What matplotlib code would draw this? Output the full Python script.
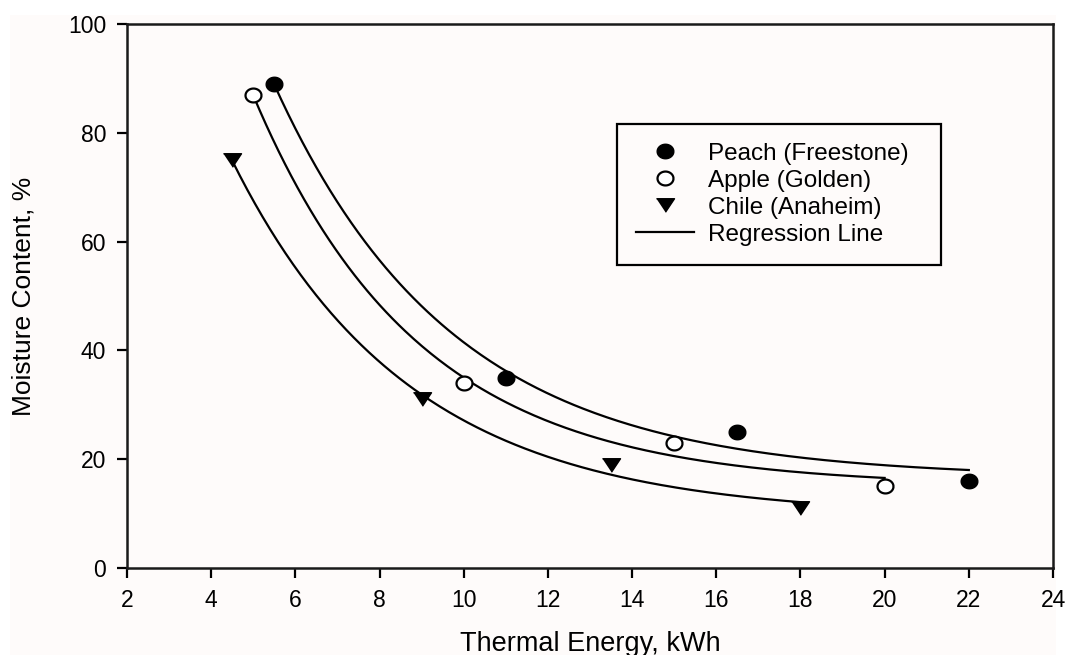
import numpy as np
import matplotlib
matplotlib.use("Agg")
from matplotlib import pyplot as plt
from matplotlib.lines import Line2D
from matplotlib.patches import Rectangle

plt.rcParams['font.family'] = ['Liberation Sans', 'DejaVu Sans']

# data
peach_x = np.array([5.5, 11.0, 16.5, 22.0])
peach_y = np.array([89.0, 35.0, 25.0, 16.0])
apple_x = np.array([5.0, 10.0, 15.0, 20.0])
apple_y = np.array([87.0, 34.0, 23.0, 15.0])
chile_x = np.array([4.5, 9.0, 13.5, 18.0])
chile_y = np.array([75.0, 31.0, 19.0, 11.0])

x_ticks = [2, 4, 6, 8, 10, 12, 14, 16, 18, 20, 22, 24]
y_ticks = [0, 20, 40, 60, 80, 100]
labels = ["Peach (Freestone)", "Apple (Golden)", "Chile (Anaheim)", "Regression Line"]

BG = '#fefbfa'
W, H = 1068, 655
# the source image is a little stretched sideways, so the markers are too
t = np.linspace(0, 2 * np.pi, 60)
ELL = list(zip(np.cos(t), 0.87 * np.sin(t)))
TRI = [(-1, 0.75), (1, 0.75), (0, -0.75)]


def fit_exp(x, y):
    # y = a + b*exp(-c*x), least squares with a search over c
    best = None
    for c in np.linspace(0.02, 1.5, 3000):
        A = np.column_stack([np.ones_like(x), np.exp(-c * x)])
        coef = np.linalg.lstsq(A, y, rcond=None)[0]
        sse = np.sum((A @ coef - y) ** 2)
        if best is None or sse < best[0]:
            best = (sse, c, coef)
    _, c, (a, b) = best
    xs = np.linspace(x[0], x[-1], 300)
    return xs, a + b * np.exp(-c * xs)


fig = plt.figure(figsize=(W / 100, H / 100), dpi=100, facecolor='white')
fig.patches.append(Rectangle((10 / W, 0), (1056 - 10) / W, 1 - 15 / H, transform=fig.transFigure,
                             facecolor=BG, edgecolor='none', zorder=-5))
ax = fig.add_axes([127 / W, 1 - 568 / H, (1053 - 127) / W, (568 - 24) / H])
ax.set_facecolor(BG)

for x, y in [(peach_x, peach_y), (apple_x, apple_y), (chile_x, chile_y)]:
    xs, ys = fit_exp(x, y)
    ax.plot(xs, ys, color='black', lw=1.6, zorder=2)

ax.plot(peach_x, peach_y, marker=ELL, ms=12, mfc='black', mec='black', ls='none', zorder=3)
ax.plot(apple_x, apple_y, marker=ELL, ms=11.5, mfc='white', mec='black', mew=1.6, ls='none', zorder=3)
ax.plot(chile_x, chile_y, marker=TRI, ms=13, mfc='black', mec='black', ls='none', zorder=3)

ax.set_xlim(2, 24)
ax.set_ylim(0, 100)
ax.set_xticks(x_ticks)
ax.set_yticks(y_ticks)
ax.tick_params(direction='out', length=7, width=1.6, labelsize=16.5, pad=8, colors='black')
ax.tick_params(top=False, right=False)
for s in ax.spines.values():
    s.set_linewidth(1.8)
    s.set_color('#1a1a1a')

ax.set_xlabel("Thermal Energy, kWh", fontsize=19.5)
ax.xaxis.set_label_coords(0.5, -(631 - 568) / (568 - 24))
ax.set_ylabel("Moisture Content, %", fontsize=19)
ax.yaxis.set_label_coords(-(127 - 36) / (1053 - 127), 0.5)

handles = [
    Line2D([], [], marker=ELL, ls='none', ms=12, mfc='black', mec='black'),
    Line2D([], [], marker=ELL, ls='none', ms=11.5, mfc='white', mec='black', mew=1.6),
    Line2D([], [], marker=TRI, ls='none', ms=13, mfc='black', mec='black'),
    Line2D([], [], color='black', lw=1.6),
]
leg_box = (617 / W, 1 - 258 / H, (941 - 617) / W, (258 - 124) / H)
leg = ax.legend(handles, labels, loc='upper left', bbox_to_anchor=leg_box, mode='expand',
                bbox_transform=fig.transFigure, fontsize=17.5, frameon=True, fancybox=False,
                edgecolor='black', facecolor=BG, framealpha=1, borderpad=0.78,
                handlelength=2.4, handletextpad=0.55, labelspacing=0.2, borderaxespad=0)
leg.get_frame().set_linewidth(1.6)

fig.savefig("out.png", dpi=100, facecolor='white')
